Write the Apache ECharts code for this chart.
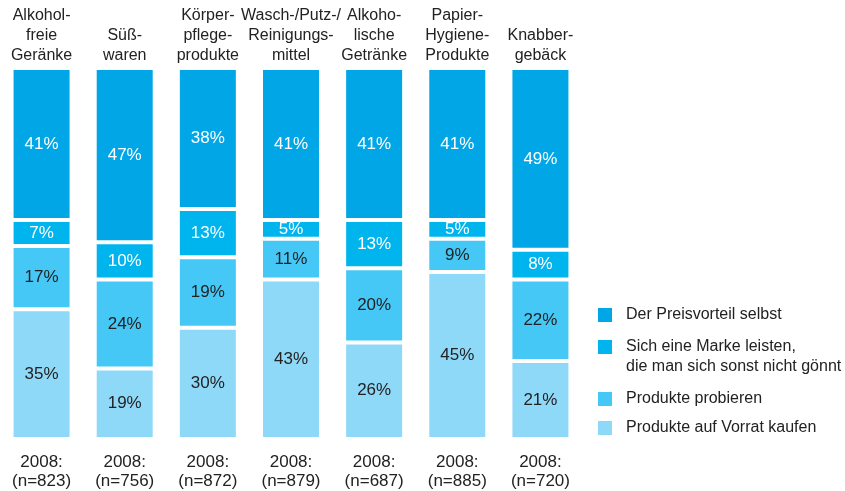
<!DOCTYPE html>
<html>
<head>
<meta charset="utf-8">
<script src="https://cdn.jsdelivr.net/npm/echarts@6/dist/echarts.min.js"></script>
<style>
  html, body { margin: 0; padding: 0; background: #fff; }
  #chart { width: 845px; height: 491px; }
</style>
</head>
<body>
<div id="chart"></div>
<script>
const categories = [
  'Alkohol-\nfreie\nGeränke', 'Süß-\nwaren', 'Körper-\npflege-\nprodukte',
  'Wasch-/Putz-/\nReinigungs-\nmittel', 'Alkoho-\nlische\nGetränke',
  'Papier-\nHygiene-\nProdukte', 'Knabber-\ngebäck'
];
const sampleLabels = [
  '2008:\n(n=823)', '2008:\n(n=756)', '2008:\n(n=872)', '2008:\n(n=879)',
  '2008:\n(n=687)', '2008:\n(n=885)', '2008:\n(n=720)'
];
const vorrat = [35, 19, 30, 43, 26, 45, 21];
const probieren = [17, 24, 19, 11, 20, 9, 22];
const marke = [7, 10, 13, 5, 13, 5, 8];
const preisvorteil = [41, 47, 38, 41, 41, 41, 49];

const seriesNames = [
  'Der Preisvorteil selbst',
  'Sich eine Marke leisten,\ndie man sich sonst nicht gönnt',
  'Produkte probieren',
  'Produkte auf Vorrat kaufen'
];
const colors = ['#00a6e6', '#00b5ee', '#46c8f6', '#8fd9f8'];

function makeSeries(name, data, color, labelColor) {
  return {
    name: name,
    type: 'bar',
    stack: 'total',
    data: data,
    barWidth: 60,
    itemStyle: { color: color, borderColor: '#fff', borderWidth: 2 },
    label: {
      show: true,
      position: 'inside',
      formatter: '{c}%',
      color: labelColor,
      fontSize: 17,
      fontFamily: 'Liberation Sans'
    }
  };
}

const legendText = {
  fontSize: 16,
  color: '#222',
  fontFamily: 'Liberation Sans',
  lineHeight: 20,
  padding: [0, 0, 0, 8]
};

function makeLegend(names, top, extra) {
  return Object.assign({
    orient: 'vertical',
    left: 596,
    top: top,
    padding: 0,
    itemWidth: 16,
    itemHeight: 16,
    itemGap: 9,
    icon: 'rect',
    data: names,
    textStyle: legendText
  }, extra || {});
}

const chart = echarts.init(document.getElementById('chart'));
chart.setOption({
  animation: false,
  color: colors,
  grid: { left: 0, width: 582, top: 68, bottom: 52 },
  legend: [
    makeLegend([seriesNames[0]], 305),
    // icon drawn in the upper part of a taller box so it sits on the first text line
    makeLegend([seriesNames[1]], 336, {
      itemHeight: 40,
      icon: 'path://M0,0L0.01,0L0,0.01Z M0,2L16,2L16,18L0,18Z M0,40L0.01,40L0,39.99Z'
    }),
    makeLegend([seriesNames[2], seriesNames[3]], 389)
  ],
  xAxis: [
    {
      type: 'category',
      data: categories,
      position: 'top',
      axisLine: { show: false },
      axisTick: { show: false },
      axisLabel: {
        interval: 0,
        margin: 2,
        fontSize: 16,
        lineHeight: 20,
        color: '#222',
        fontFamily: 'Liberation Sans'
      }
    },
    {
      type: 'category',
      data: sampleLabels,
      position: 'bottom',
      axisLine: { show: false },
      axisTick: { show: false },
      axisLabel: {
        interval: 0,
        margin: 14,
        fontSize: 17,
        lineHeight: 19,
        color: '#222',
        fontFamily: 'Liberation Sans'
      }
    }
  ],
  yAxis: { type: 'value', min: 0, max: 100, show: false },
  series: [
    makeSeries(seriesNames[3], vorrat, colors[3], '#222'),
    makeSeries(seriesNames[2], probieren, colors[2], '#222'),
    makeSeries(seriesNames[1], marke, colors[1], '#fff'),
    makeSeries(seriesNames[0], preisvorteil, colors[0], '#fff')
  ]
});
</script>
</body>
</html>
